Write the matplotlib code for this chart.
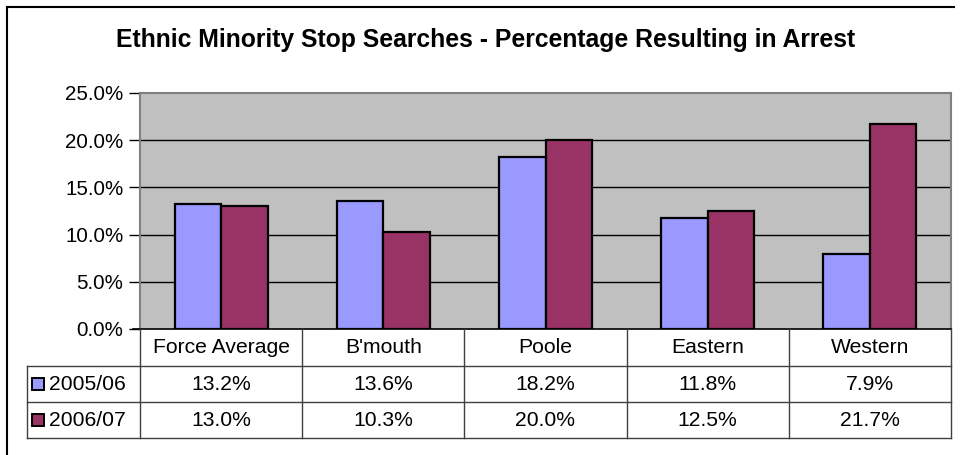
import matplotlib.pyplot as plt
import matplotlib.transforms as mtransforms
from matplotlib.lines import Line2D
from matplotlib.patches import Rectangle
import numpy as np

plt.rcParams['font.family'] = ['Liberation Sans', 'DejaVu Sans']

# chart data
categories = ["Force Average", "B'mouth", "Poole", "Eastern", "Western"]
series_names = ["2005/06", "2006/07"]
vals_0506 = [13.2, 13.6, 18.2, 11.8, 7.9]
vals_0607 = [13.0, 10.3, 20.0, 12.5, 21.7]
colors = ["#9999FF", "#993366"]
yticks = [0, 5, 10, 15, 20, 25]

W, H = 960, 455
fig = plt.figure(figsize=(W / 100, H / 100), dpi=100)

def fx(px):
    return px / W

def fy(py):
    return 1 - py / H

ax = fig.add_axes([fx(140), fy(329), fx(951) - fx(140), fy(93) - fy(329)])
ax.set_facecolor("#C0C0C0")

x = np.arange(len(categories))
bw = 0.287
series = [vals_0506, vals_0607]
for i, vals in enumerate(series):
    ax.bar(x + (i - 0.5) * bw, vals, width=bw, color=colors[i],
           edgecolor="black", linewidth=1.6, zorder=3)

fs = 15.2
ax.set_xlim(-0.5, len(categories) - 0.5)
ax.set_ylim(0, 25)
ax.set_yticks(yticks)
ax.set_yticklabels([f"{v:.1f}%" for v in yticks], fontsize=14.8)
ax.set_xticks([])
for v in yticks[1:-1]:
    ax.axhline(v, color="black", linewidth=1, zorder=1)
ax.tick_params(axis="y", direction="out", length=8, width=1, color="black", pad=4)
for s in ["top", "left", "right"]:
    ax.spines[s].set_color("#808080")
    ax.spines[s].set_linewidth(1.5)
ax.spines["bottom"].set_visible(False)

# data table below the axes
row_px = [329, 366, 402, 438]
trans = mtransforms.blended_transform_factory(ax.transData, fig.transFigure)
lc = "#404040"
fig.add_artist(Line2D([fx(133), fx(951)], [fy(329), fy(329)], color="black", lw=1.2))
for py in row_px[1:]:
    fig.add_artist(Line2D([fx(27), fx(951)], [fy(py), fy(py)], color=lc, lw=1))
for b in np.arange(-0.5, len(categories)):
    fig.add_artist(Line2D([b, b], [fy(329), fy(438)], transform=trans, color=lc, lw=1))
fig.add_artist(Line2D([fx(27), fx(27)], [fy(366), fy(438)], color=lc, lw=1))

for i, cat in enumerate(categories):
    ax.text(i, fy((329 + 366) / 2), cat, transform=trans, ha="center",
            va="center", fontsize=fs)
    for r, vals in enumerate(series):
        ax.text(i, fy((row_px[r + 1] + row_px[r + 2]) / 2), f"{vals[i]:.1f}%",
                transform=trans, ha="center", va="center", fontsize=fs)

for r, name in enumerate(series_names):
    yc = (row_px[r + 1] + row_px[r + 2]) / 2
    fig.add_artist(Rectangle((fx(32), fy(yc + 6)), fx(12), fy(0) - fy(12),
                             facecolor=colors[r], edgecolor="black", lw=1.4))
    fig.text(fx(49), fy(yc), name, ha="left", va="center", fontsize=fs)

# title
fig.text(fx(486), fy(40), "Ethnic Minority Stop Searches - Percentage Resulting in Arrest",
         ha="center", va="center", fontsize=17.8, fontweight="bold")

# outer chart border (top and left visible)
fig.add_artist(Line2D([fx(7), fx(954)], [fy(7), fy(7)], color="black", lw=1.5))
fig.add_artist(Line2D([fx(7), fx(7)], [fy(7), 0], color="black", lw=1.5))

fig.savefig("out.png", dpi=100, facecolor="white")
